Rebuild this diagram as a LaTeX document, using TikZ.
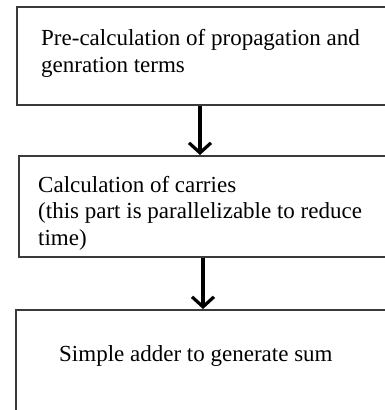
\documentclass[tikz,border=0pt]{standalone}
\usepackage{fontspec}
\setmainfont{Liberation Serif}
\usetikzlibrary{arrows.meta}
\definecolor{boxgray}{HTML}{3A3A3A}
\begin{document}
\begin{tikzpicture}[x=1pt,y=-1pt,
  stage/.style={draw=boxgray, line width=1.7pt, inner sep=0pt,
    anchor=north west, minimum width=420pt},
  caption/.style={anchor=base west, inner sep=0pt, align=left,
    font=\fontsize{23}{27}\selectfont},
  flow/.style={line width=3.2pt, -{Straight Barb[length=10pt,width=22pt]}}]
\useasboundingbox (0,0) rectangle (385,410);
\clip (0,0) rectangle (385,410);

% the three stages of the adder
\node[stage, minimum height=98pt] (pre)   at (16,6)   {};
\node[stage, minimum height=101pt] (carry) at (18,155) {};
\node[stage, minimum height=140pt] (sum)   at (15,309) {};

% stage texts (anchored at the baseline of their last line)
\node[caption, font=\fontsize{23}{27.5}\selectfont] (pretext) at (41,72.5)
  {Pre-calculation of propagation and\\genration terms};
\node[caption, font=\fontsize{23}{26.5}\selectfont] (carrytext) at (38,245)
  {Calculation of carries\\(this part is parallelizable to reduce\\time)};
\node[caption] (sumtext) at (59,361) {Simple adder to generate sum};

% flow between stages
\coordinate (f1) at (200,0);
\coordinate (f2) at (203,0);
\draw[flow] (pre.south -| f1) -- (carry.north -| f1);
\draw[flow] (carry.south -| f2) -- (sum.north -| f2);
\end{tikzpicture}
\end{document}
